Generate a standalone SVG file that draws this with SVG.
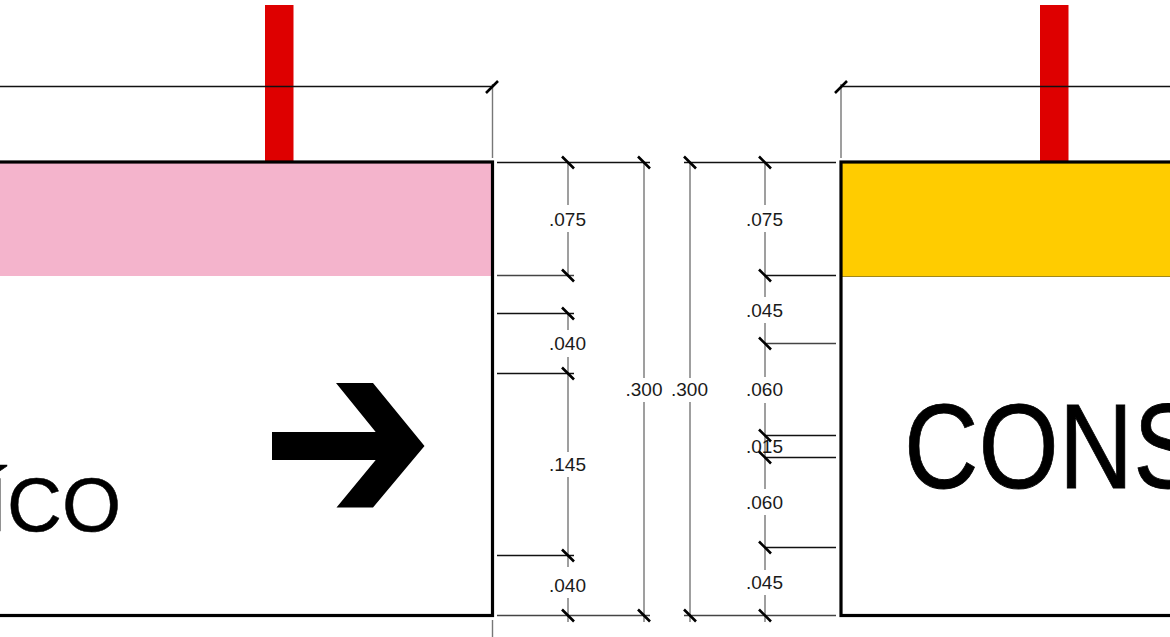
<svg xmlns="http://www.w3.org/2000/svg" width="1170" height="637" viewBox="0 0 1170 637">
<style>
text{font-family:"Liberation Sans",Arial,sans-serif;fill:#000}
.d{font-size:19px;text-anchor:middle;fill:#1a1a1a}
.v{stroke:#777;stroke-width:1.400;fill:none}
.h{stroke:#111;stroke-width:1.300;fill:none}
.t{stroke:#000;stroke-width:2.600;fill:none}
.frame{fill:none;stroke:#000;stroke-width:3.200}
</style>
<rect width="1170" height="637" fill="#fff"/>
<g id="sign-left">
<rect x="265" y="5" width="28.500" height="157" fill="#de0000"/>
<rect x="-5" y="162" width="497" height="114" fill="#f4b4cc"/>
<rect x="-5" y="162" width="497.500" height="453.500" class="frame"/>
<text x="121" y="531" font-size="76" text-anchor="end" stroke="#000" stroke-width="0.500">ÍCO</text>
<polygon points="272,432 375.700,432 336,383 373,383 424.500,446 373,507.500 336.500,507.500 375.700,460 272,460" fill="#000"/>
</g>
<g id="sign-right">
<rect x="1040" y="5" width="28.500" height="157" fill="#de0000"/>
<rect x="841" y="162" width="335" height="114.500" fill="#ffcc00"/>
<path d="M841 276.500H1170" stroke="#8a7000" stroke-width="0.800"/>
<rect x="841" y="162" width="335" height="453.500" class="frame"/>
<text transform="translate(904 488) scale(0.86 1)" font-size="120" stroke="#000" stroke-width="0.800">CONS</text>
</g>
<g id="connectors">
<path class="h" d="M0 86.500H492.500M841 86.500H1170"/>
<path class="v" d="M492.500 84V158M492.500 620V637M841 84V158"/>
<path class="h" d="M497 162.500H650M684 162.500H836M497 313.500H574M497 373.500H574M497 555.500H574M765 275.500H836M765 435.500H836M765 457.500H836M765 547.500H836"/>
<path d="M497 275.500H574M765 343.500H836M497 615.500H650M684 615.500H836" stroke="#444" stroke-width="1.300" fill="none"/>
<path class="v" d="M568 162V205M568 232V275M568 313V330M568 357V452M568 477V567M568 598V622"/>
<path class="v" d="M644 162V378M644 402V622M690 162V378M690 402V622"/>
<path class="v" d="M765 162V205M765 232V297M765 323V377M765 403V489M765 515V570M765 595V622"/>
</g>
<g id="labels">
<text class="d" x="567.500" y="226">.075</text>
<text class="d" x="567.500" y="350">.040</text>
<text class="d" x="567.500" y="471">.145</text>
<text class="d" x="567.500" y="592">.040</text>
<text class="d" x="644" y="396">.300</text>
<text class="d" x="689.500" y="396">.300</text>
<text class="d" x="764.500" y="226">.075</text>
<text class="d" x="764.500" y="317">.045</text>
<text class="d" x="764.500" y="396">.060</text>
<text class="d" x="764.500" y="453">.015</text>
<text class="d" x="764.500" y="509">.060</text>
<text class="d" x="764.500" y="589">.045</text>
</g>
<g id="ticks" class="t">
<path d="M486 93L498 81M835 93L847 81"/>
<path d="M562 156.500L574 168.500M638 156.500L650 168.500M684 156.500L696 168.500M759 156.500L771 168.500"/>
<path d="M562 269.500L574 281.500M562 307.500L574 319.500M562 367.500L574 379.500M562 549.500L574 561.500M562 609.500L574 621.500M638 609.500L650 621.500M684 609.500L696 621.500M759 609.500L771 621.500"/>
<path d="M759 269.500L771 281.500M759 337.500L771 349.500M759 429.500L771 441.500M759 451.500L771 463.500M759 541.500L771 553.500"/>
</g>
</svg>
